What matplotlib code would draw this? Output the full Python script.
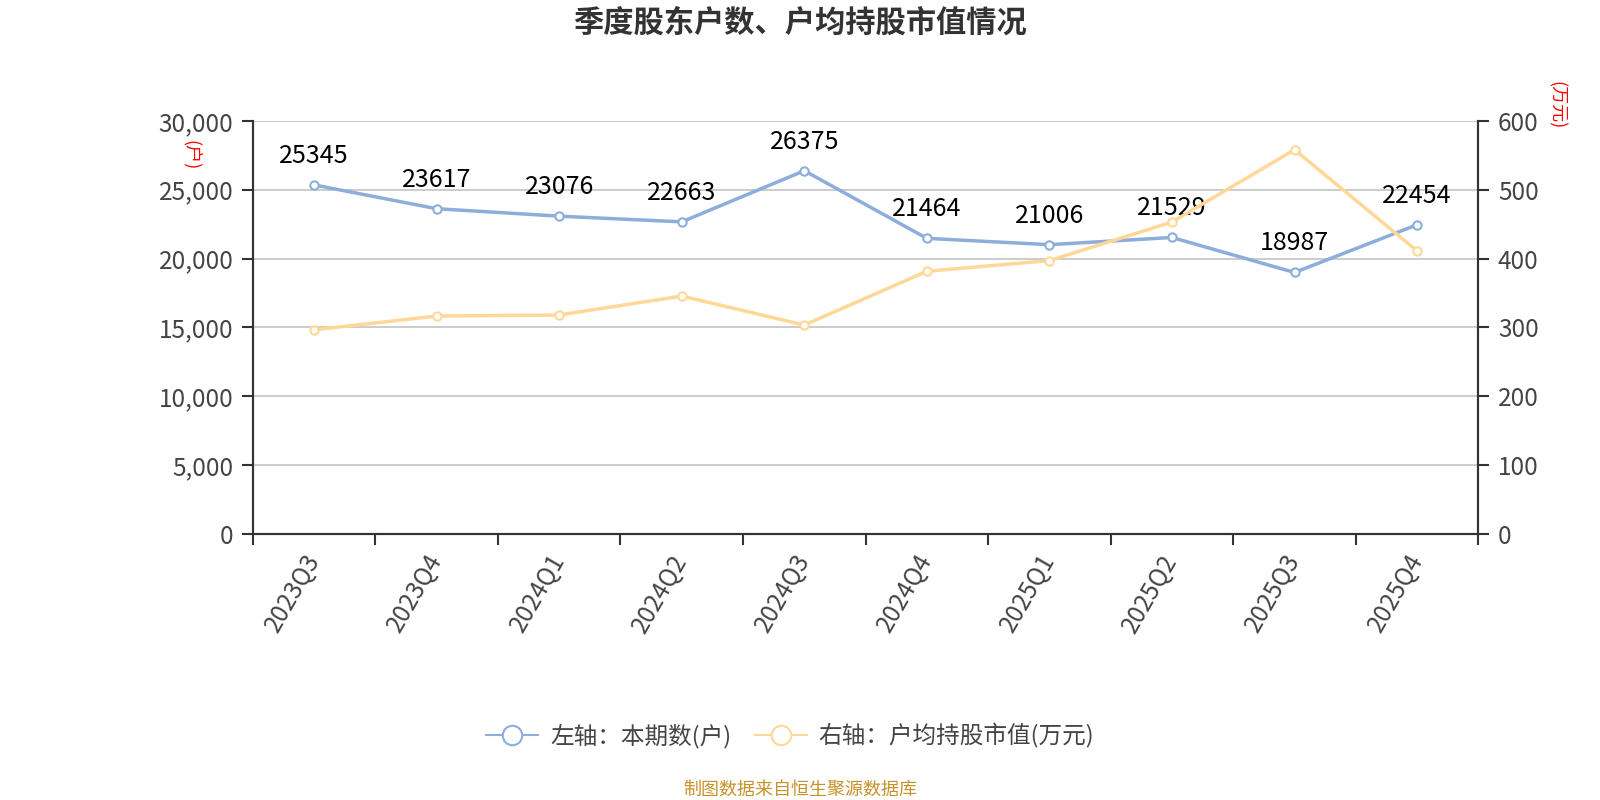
import matplotlib
matplotlib.use('Agg')
import matplotlib.pyplot as plt
from matplotlib.lines import Line2D
import numpy as np

plt.rcParams['font.family'] = ['Noto Sans CJK SC', 'DejaVu Sans']

# ── 数据 ──────────────────────────────────────────────────────────────
quarters = ['2023Q3', '2023Q4', '2024Q1', '2024Q2', '2024Q3',
            '2024Q4', '2025Q1', '2025Q2', '2025Q3', '2025Q4']
holders = [25345, 23617, 23076, 22663, 26375,
           21464, 21006, 21529, 18987, 22454]
avg_value = [296.5, 316.5, 318, 345.5, 303.4,
             381.5, 397, 453, 558, 411]

left_ticks = [0, 5000, 10000, 15000, 20000, 25000, 30000]
right_ticks = [0, 100, 200, 300, 400, 500, 600]

blue = '#8DADDB'
orange = '#FFD897'
axis_c = '#333333'
text_c = '#444444'

fig = plt.figure(figsize=(16, 8), dpi=100)
fig.patch.set_facecolor('white')
ax1 = fig.add_axes([0.158, 0.3325, 0.766, 0.5165])
ax2 = ax1.twinx()

x = np.arange(len(quarters))

ax1.plot(x, holders, color=blue, lw=2.5, marker='o', ms=6,
         mfc='white', mec=blue, mew=1.5, zorder=3)
ax2.plot(x, avg_value, color=orange, lw=2.5, marker='o', ms=6,
         mfc='white', mec=orange, mew=1.5, zorder=3)

for xi, v in zip(x, holders):
    ax1.annotate(f'{v}', (xi, v), xytext=(0, 21), textcoords='offset points',
                 ha='center', va='center', fontsize=18, color='black')

# ── осі ────────────────────────────────────────────────────────────────
ax1.set_xlim(-0.5, len(quarters) - 0.5)
ax1.set_ylim(0, 30000)
ax2.set_ylim(0, 600)
ax1.set_yticks(left_ticks)
ax1.set_yticklabels([f'{t:,}' for t in left_ticks])
ax2.set_yticks(right_ticks)

ax1.set_xticks(np.arange(-0.5, len(quarters), 1.0))
ax1.set_xticklabels([])
ax1.set_xticks(x, minor=True)
ax1.set_xticklabels(quarters, minor=True, rotation=60, ha='right',
                    va='center', rotation_mode='anchor',
                    fontsize=17.5, color=text_c)
ax1.tick_params(axis='x', which='minor', length=0, pad=16)
ax1.tick_params(axis='x', which='major', length=8, width=1.5, color=axis_c)

ax1.tick_params(axis='y', length=8, width=1.5, color=axis_c,
                labelsize=17.5, labelcolor=text_c, pad=6)
ax2.tick_params(axis='y', length=8, width=1.5, color=axis_c,
                labelsize=17.5, labelcolor=text_c, pad=6)

ax1.grid(axis='y', color='#C8C8C8', lw=1.3)
ax1.set_axisbelow(True)

for ax in (ax1, ax2):
    ax.spines['top'].set_visible(False)
    for s in ('left', 'right', 'bottom'):
        ax.spines[s].set_color(axis_c)
        ax.spines[s].set_linewidth(1.5)

# одиниці
fig.text(190.7 / 1600, 1 - 155 / 800, '(户)', rotation=-90, color='red',
         fontsize=13, ha='center', va='center')
fig.text(1556 / 1600, 1 - 105 / 800, '(万元)', rotation=-90, color='red',
         fontsize=13, ha='center', va='center')

fig.text(0.5, 1 - 23 / 800, '季度股东户数、户均持股市值情况', fontsize=21.8,
         fontweight='bold', color='#333333', ha='center', va='center')

handles = [
    Line2D([0], [0], color=blue, lw=1.5, marker='o', ms=14, mfc='white',
           mec=blue, mew=1.5),
    Line2D([0], [0], color=orange, lw=1.5, marker='o', ms=14, mfc='white',
           mec=orange, mew=1.5),
]
fig.legend(handles, ['左轴：本期数(户)', '右轴：户均持股市值(万元)'],
           loc='center', bbox_to_anchor=(0.494, 1 - 736 / 800), ncol=2,
           frameon=False, fontsize=17, handlelength=2.2, columnspacing=1.0,
           handletextpad=0.5, labelcolor=text_c)

fig.text(0.5, 1 - 790 / 800, '制图数据来自恒生聚源数据库', fontsize=13,
         color='#C8922B', ha='center', va='center')

fig.savefig('out.png', dpi=100, facecolor='white')
